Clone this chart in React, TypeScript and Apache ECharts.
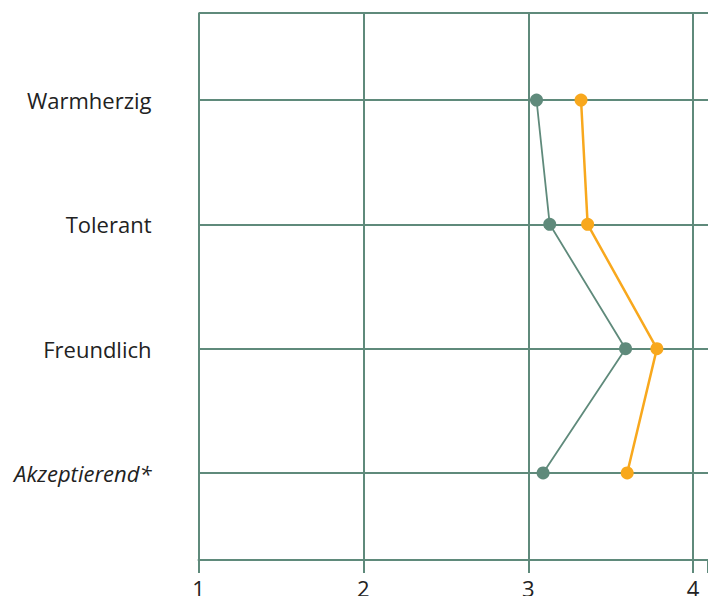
import React, { useEffect, useRef } from "react";
import * as echarts from "echarts";

const categories = ["Warmherzig", "Tolerant", "Freundlich", "Akzeptierend*"];
const italicCategories = ["Akzeptierend*"];
const greenValues = [3.05, 3.13, 3.59, 3.09];
const orangeValues = [3.32, 3.36, 3.78, 3.6];
const xTicks = [1, 2, 3, 4];

const GRID = "#5f8a7b";
const GREEN = "#5f8a7b";
const ORANGE = "#f8a81d";
const FONT = "'Open Sans', 'Noto Sans', sans-serif";

export default function App() {
  const ref = useRef<HTMLDivElement>(null);
  useEffect(() => {
    if (!ref.current) return;
    const chart = echarts.init(ref.current, undefined, { renderer: "svg" });
    const toPoints = (vals: number[]) => vals.map((v, i) => [v, i + 1]);
    chart.setOption({
      animation: false,
      grid: { left: 198.5, right: 0, top: 13, bottom: 36, outerBoundsMode: "none", containLabel: false },
      xAxis: {
        type: "value",
        min: 1,
        max: 4.09,
        interval: 1,
        axisLine: { show: true, lineStyle: { color: GRID, width: 2 } },
        axisTick: { show: true, length: 13, lineStyle: { color: GRID, width: 2 } },
        axisLabel: {
          margin: 17,
          color: "#222",
          fontSize: 22,
          fontFamily: FONT,
          formatter: (v: number) => (xTicks.includes(v) ? String(v) : ""),
        },
        splitLine: { show: true, showMaxLine: false, lineStyle: { color: GRID, width: 2 } },
      },
      yAxis: {
        type: "value",
        inverse: true,
        min: 0.3,
        max: 4.7,
        axisLine: { show: false },
        axisTick: { show: false },
        axisLabel: {
          margin: 47,
          color: "#222",
          fontSize: 22,
          fontFamily: FONT,
          formatter: (v: number) => {
            const name = Number.isInteger(v) ? categories[v - 1] : undefined;
            if (!name) return "";
            return italicCategories.includes(name) ? `{i|${name}}` : name;
          },
          rich: {
            i: { fontStyle: "italic", fontSize: 22, fontFamily: FONT, color: "#222" },
          },
        },
        splitLine: { show: true, lineStyle: { color: GRID, width: 2 } },
      },
      series: [
        {
          type: "line",
          data: toPoints(greenValues),
          symbol: "circle",
          symbolSize: 13,
          lineStyle: { color: GREEN, width: 1.8 },
          itemStyle: { color: GREEN },
          z: 3,
        },
        {
          type: "line",
          data: toPoints(orangeValues),
          symbol: "circle",
          symbolSize: 13,
          lineStyle: { color: ORANGE, width: 2.5 },
          itemStyle: { color: ORANGE },
          z: 4,
        },
      ],
    });
    return () => chart.dispose();
  }, []);
  return (
    <div
      ref={ref}
      style={{ position: "absolute", left: 0, top: 0, width: 708, height: 596 }}
    />
  );
}
